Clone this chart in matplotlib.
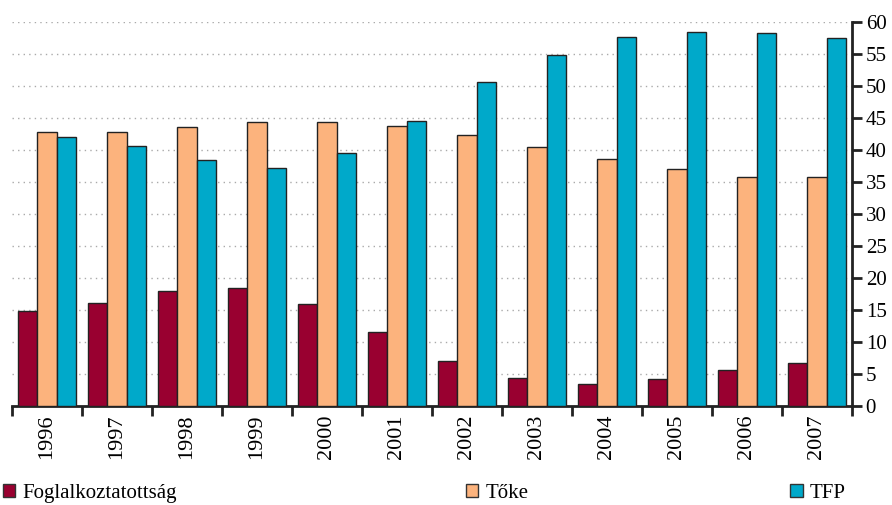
import numpy as np
import matplotlib
matplotlib.use("Agg")
import matplotlib.pyplot as plt
from matplotlib.patches import Patch

years = ["1996", "1997", "1998", "1999", "2000", "2001",
         "2002", "2003", "2004", "2005", "2006", "2007"]
foglalkoztatottsag = [14.9, 16.1, 18.0, 18.4, 15.9, 11.5, 7.1, 4.4, 3.4, 4.2, 5.7, 6.7]
toke = [42.8, 42.8, 43.6, 44.4, 44.4, 43.8, 42.3, 40.5, 38.6, 37.0, 35.8, 35.8]
tfp = [42.1, 40.7, 38.4, 37.2, 39.5, 44.6, 50.6, 54.9, 57.7, 58.5, 58.3, 57.5]

series_names = ["Foglalkoztatottság", "Tőke", "TFP"]
colors = ["#990030", "#FCB37D", "#00A9CA"]

plt.rcParams["font.family"] = ["Liberation Serif", "DejaVu Serif"]

fig = plt.figure(figsize=(8.92, 5.05), dpi=100)
ax = fig.add_axes([0.0135, 0.196, 0.9415, 0.76])

x = np.arange(len(years))
w = 0.277
for i, (vals, col) in enumerate(zip([foglalkoztatottsag, toke, tfp], colors)):
    ax.bar(x + (i - 1) * w, vals, width=w, color=col, edgecolor="#222222",
           linewidth=1.0, zorder=3)

ax.set_xlim(-0.5, len(years) - 0.5)
ax.set_ylim(0, 60)
ax.set_yticks(np.arange(0, 61, 5))
ax.yaxis.tick_right()
ax.grid(axis="y", linestyle=(0, (1, 3)), color="#aaaaaa", linewidth=1.0, zorder=0)

ax.set_xticks(x)
ax.set_xticklabels(years, rotation=90)
ax.set_xticks(np.arange(-0.5, len(years), 1), minor=True)
ax.tick_params(axis="x", which="major", length=0, pad=6, labelsize=16)
ax.tick_params(axis="x", which="minor", length=7, width=2, direction="out", color="#222222")
ax.tick_params(axis="y", length=7, width=2, direction="out", color="#222222",
               labelsize=15, pad=3)

for s in ["left", "top"]:
    ax.spines[s].set_visible(False)
for s in ["bottom", "right"]:
    ax.spines[s].set_linewidth(2)
    ax.spines[s].set_color("#222222")

# one legend entry per position, like the reference's spread-out row
legend_x = [0.003, 0.522, 0.886]
for name, col, lx in zip(series_names, colors, legend_x):
    h = Patch(facecolor=col, edgecolor="#333333", linewidth=1.0)
    leg = fig.legend([h], [name], loc="lower left", bbox_to_anchor=(lx, 0.004),
                     frameon=False, fontsize=15, handlelength=0.6, handleheight=0.6,
                     handletextpad=0.35, borderaxespad=0.0, borderpad=0.0)

fig.savefig("out.png", dpi=100)
